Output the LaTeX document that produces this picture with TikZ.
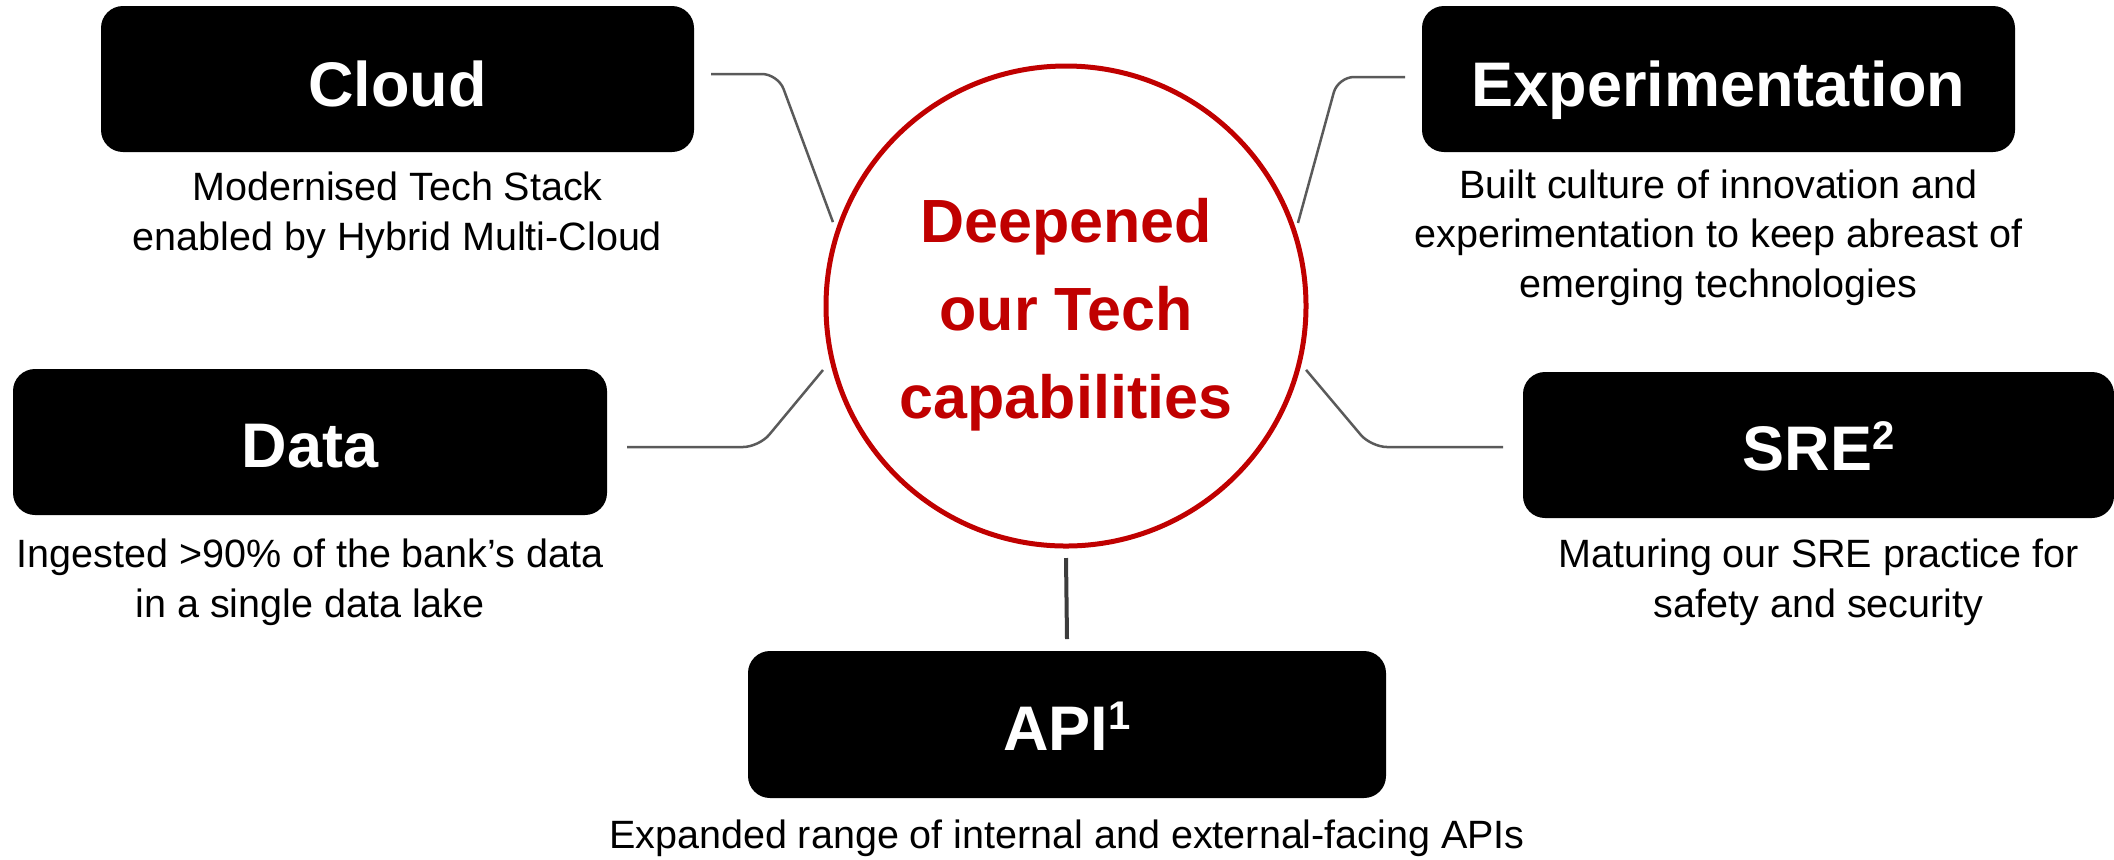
\documentclass[tikz,border=0pt]{standalone}
\usepackage{fontspec}
\setmainfont{Liberation Sans}
\usetikzlibrary{calc}
\definecolor{hubred}{HTML}{C00000}
\definecolor{linkgray}{HTML}{5A5A5A}
\definecolor{stemgray}{HTML}{3C3C3C}
% raised footnote number after a tile title
\newcommand\supmark[1]{\raisebox{10.5pt}{\fontsize{20}{20}\selectfont #1}}

\begin{document}
\begin{tikzpicture}[x=0.5pt,y=0.5pt,
  tile/.style={fill=black, rounded corners=11pt, minimum height=73pt,
    inner sep=0pt, outer sep=0pt},
  tiletext/.style={text=white, font=\fontsize{31.5}{36}\selectfont\bfseries,
    anchor=base, inner sep=0pt},
  % captions are placed by the baseline of their last line
  caption/.style={font=\fontsize{19.75}{24.75}\selectfont, align=center,
    anchor=base, inner sep=0pt},
  hub/.style={circle, draw=hubred, line width=2.5pt, minimum size=240pt,
    inner sep=0pt, outer sep=0pt},
  hubtext/.style={text=hubred, font=\fontsize{30.5}{44}\selectfont\bfseries,
    align=center, inner sep=0pt},
  link/.style={draw=linkgray, line width=1.25pt, rounded corners=8pt},
  stem/.style={draw=stemgray, line width=2pt}
]
\useasboundingbox (0,0) rectangle (2114,-859);

% central circle
\node[hub] (hub) at (1066,-306) {};
\node[hubtext] (hubT) at ($(hub.center)+(0,-9)$) {Deepened\\our Tech\\capabilities};

% tiles
\node[tile, minimum width=296.5pt] (cloud) at (397.5,-79) {};
\node[tile, minimum width=296.5pt] (exper) at (1718.5,-79) {};
\node[tile, minimum width=297pt]   (data)  at (310,-442) {};
\node[tile, minimum width=295.5pt] (sre)   at (1818.5,-445) {};
\node[tile, minimum width=319pt, minimum height=73.5pt] (api) at (1067,-724.5) {};

% tile titles
\node[tiletext] (cloudT) at ($(cloud.center)+(0,-27)$) {Cloud};
\node[tiletext] (experT) at ($(exper.center)+(0,-27)$) {Experimentation};
\node[tiletext] (dataT)  at ($(data.center)+(0,-25)$)  {Data};
\node[tiletext] (sreT)   at ($(sre.center)+(0,-25)$)   {SRE\supmark{2}};
\node[tiletext] (apiT)   at ($(api.center)+(0,-25.5)$) {API\supmark{1}};

% captions under the tiles
\node[caption] (cloudC) at ($(cloud.south)+(0,-98)$) {Modernised Tech Stack\\enabled by Hybrid Multi-Cloud};
\node[caption] (experC) at ($(exper.south)+(0,-145)$) {Built culture of innovation and\\experimentation to keep abreast of\\emerging technologies};
\node[caption] (dataC)  at ($(data.south)+(0,-102)$)  {Ingested >90\% of the bank’s data\\in a single data lake};
\node[caption] (sreC)   at ($(sre.south)+(0,-99)$)   {Maturing our SRE practice for\\safety and security};
\node[caption] (apiC)   at ($(api.south)+(0,-50)$)   {Expanded range of internal and external-facing APIs};

% connectors from the tiles towards the circle
\draw[link] ($(cloud.east)+(17,5)$) -- ++(67,0) -- ($(hub.center)+(160.2:247.7)$);
\draw[link] ($(exper.west)+(-17,2)$) -- ++(-67,0) -- ($(hub.center)+(19.7:246.4)$);
\draw[link] ($(data.east)+(20,-5)$) -- ++(132,0) -- ($(hub.center)+(194.75:251.3)$);
\draw[link] ($(sre.west)+(-20,-2)$) -- ++(-132,0) -- ($(hub.center)+(345.1:248.4)$);
\draw[stem] ($(api.north)+(0,12)$) -- ($(hub.south)+(0,-12)$);
\end{tikzpicture}
\end{document}
